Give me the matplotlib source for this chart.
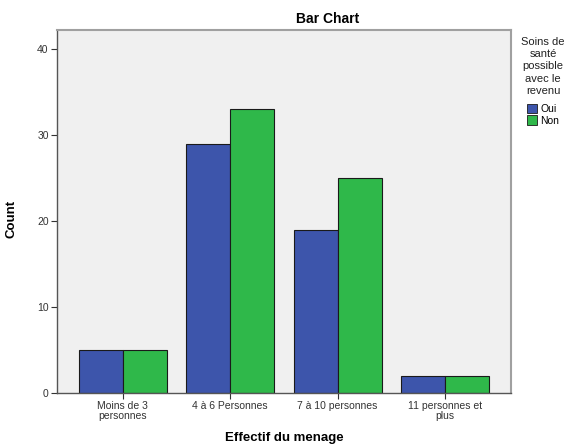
import numpy as np
import matplotlib
matplotlib.use('Agg')
import matplotlib.pyplot as plt
from matplotlib.patches import Patch

categories = ['Moins de 3\npersonnes', '4 à 6 Personnes', '7 à 10 personnes', '11 personnes et\nplus']
oui = [5, 29, 19, 2]
non = [5, 33, 25, 2]
series_names = ['Oui', 'Non']
yticks = [0, 10, 20, 30, 40]

blue = '#3d55ab'
green = '#2fb84a'

plt.rcParams['font.family'] = ['Liberation Sans', 'DejaVu Sans']

fig = plt.figure(figsize=(5.74, 4.46), dpi=100)
ax = fig.add_axes([0.0993, 0.1188, 0.7907, 0.8139])
ax.set_facecolor('#f0f0f0')

x = np.arange(len(categories))
w = 0.41
ax.bar(x - w/2, oui, w, color=blue, edgecolor='#1a1a1a', linewidth=0.8)
ax.bar(x + w/2, non, w, color=green, edgecolor='#1a1a1a', linewidth=0.8)

ax.set_xlim(-0.614, 3.614)
ax.set_ylim(0, 42.2)
ax.set_xticks(x)
ax.set_xticklabels(categories, fontsize=7.5, color='#333333', linespacing=0.95)
ax.set_yticks(yticks)
ax.set_yticklabels([str(v) for v in yticks], fontsize=7.5, color='#333333')
ax.tick_params(axis='both', direction='out', length=4, width=0.8, color='#333333', pad=2)

for s in ['top', 'right']:
    ax.spines[s].set_color('#a0a0a0')
    ax.spines[s].set_linewidth(1.5)
for s in ['left', 'bottom']:
    ax.spines[s].set_color('#555555')
    ax.spines[s].set_linewidth(1.0)

ax.set_xlabel('Effectif du menage', fontsize=9.5, fontweight='bold', labelpad=8)
ax.set_ylabel('Count', fontsize=9.5, fontweight='bold')
ax.yaxis.set_label_coords(-0.086, 0.48)
fig.text(0.57, 0.958, 'Bar Chart', ha='center', va='center', fontsize=10, fontweight='bold')

# legend title drawn as text so its line spacing can match
fig.text(0.946, 0.918, 'Soins de\nsanté\npossible\navec le\nrevenu', ha='center', va='top',
         fontsize=8, linespacing=1.3, color='#222222')
handles = [Patch(facecolor=blue, edgecolor='#1a1a1a', linewidth=0.6),
           Patch(facecolor=green, edgecolor='#1a1a1a', linewidth=0.6)]
leg = fig.legend(handles, series_names, loc='upper left', bbox_to_anchor=(0.905, 0.784),
                 frameon=False, fontsize=7.5, handlelength=1.0, handleheight=1.0,
                 handletextpad=0.3, labelspacing=0.15, borderpad=0.2)

plt.savefig('out.png', dpi=100)
